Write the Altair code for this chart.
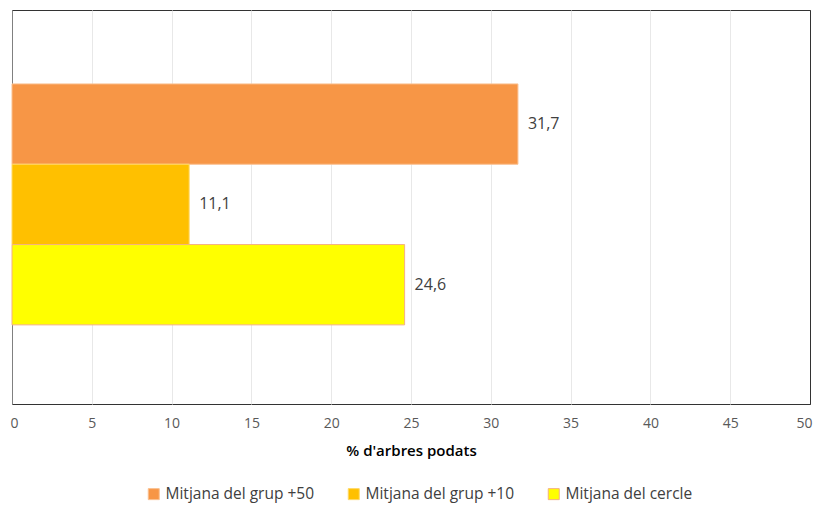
import altair as alt
import pandas as pd

series = ["Mitjana del grup +50", "Mitjana del grup +10", "Mitjana del cercle"]
values = [31.7, 11.1, 24.6]
colors = ["#F79646", "#FFC000", "#FFFF00"]
strokes = ["#FAC090", "#FFD966", "#F4B183"]

df = pd.DataFrame({"serie": series, "valor": values})

y_enc = alt.Y("serie:N", sort=series, axis=None,
              scale=alt.Scale(paddingInner=0, paddingOuter=0.953, align=0.483))

grid_color = {
    "condition": [
        {"test": "datum.value === 0", "value": "#808080"},
        {"test": "datum.value === 50", "value": "#333333"},
    ],
    "value": "#E8E8E8",
}

bars = alt.Chart(df).mark_bar(strokeWidth=1).encode(
    x=alt.X("valor:Q",
            scale=alt.Scale(domain=[0, 50], nice=False, zero=True),
            axis=alt.Axis(values=list(range(0, 51, 5)), title="% d'arbres podats",
                          ticks=False, domain=False, grid=True, gridColor=grid_color,
                          labelColor="#595959", labelFontSize=14, labelFont="Open Sans",
                          labelPadding=12, labelFlush=True, labelFlushOffset=2,
                          titleFont="Open Sans", titleFontSize=15,
                          titleFontWeight=600, titleColor="#000000", titlePadding=13)),
    y=y_enc,
    color=alt.Color("serie:N", sort=series,
                    scale=alt.Scale(domain=series, range=colors),
                    legend=alt.Legend(orient="none", direction="horizontal", title=None,
                                      legendX=134, legendY=476, symbolType="square",
                                      symbolSize=121, symbolStrokeWidth=1,
                                      labelFont="Open Sans", labelFontSize=15.5,
                                      labelColor="#404040", columnPadding=31,
                                      labelOffset=4, labelLimit=300,
                                      symbolStrokeColor="#F4B183")),
    stroke=alt.Stroke("serie:N", sort=series,
                      scale=alt.Scale(domain=series, range=strokes), legend=None),
)

labels = alt.Chart(df).transform_calculate(
    lab="replace(format(datum.valor, '.1f'), '.', ',')"
).mark_text(align="left", baseline="middle", dx=10, font="Open Sans", fontSize=16,
            color="#404040").encode(
    x=alt.X("valor:Q"),
    y=y_enc,
    text="lab:N",
)

chart = (bars + labels).properties(
    width=798, height=394,
    background="white",
    autosize=alt.AutoSizeParams(type="none"),
    padding={"left": 4, "top": 2, "right": 3, "bottom": 99},
).configure_view(stroke="#333333", strokeWidth=1)

chart.save("out.html", embed_options={"renderer": "svg", "actions": False})
